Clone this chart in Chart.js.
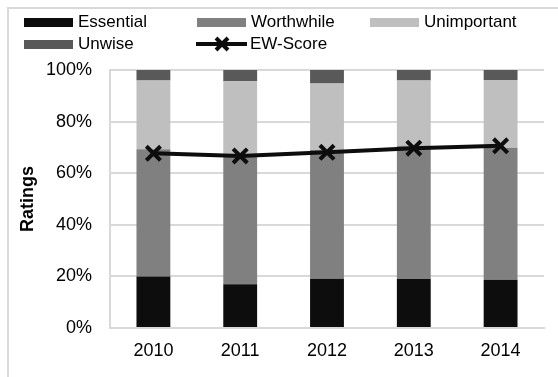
<!DOCTYPE html>
<html lang="en">
<head>
    <meta charset="UTF-8">
    <title>Ratings</title>
    <style>
        body { margin: 0; background: #fff; font-family: "Liberation Sans", Arial, sans-serif; }
        #wrap { position: relative; width: 558px; height: 377px; overflow: hidden; }
        #frame { position: absolute; left: 7px; top: 7px; width: 600px; height: 400px;
                 border-top: 2px solid #d9d9d9; border-left: 2px solid #d9d9d9; }
        canvas { position: absolute; left: 0; top: 0; }
        .item { position: absolute; font-size: 17px; color: #000; line-height: 20px; }
        .box { position: absolute; width: 49px; height: 9px; }
    </style>
</head>
<body>
    <div id="wrap">
        <div id="frame"></div>
        <canvas id="myChart" width="558" height="377"></canvas>
        <div id="legend"></div>
    </div>

    <script src="https://cdn.jsdelivr.net/npm/chart.js"></script>
    <script>
        const years = ['2010', '2011', '2012', '2013', '2014'];
        const essential   = [20.0, 17.0, 19.1, 19.0, 18.7];
        const worthwhile  = [49.3, 50.0, 49.9, 51.6, 51.2];
        const unimportant = [26.6, 28.6, 25.8, 25.3, 26.2];
        const unwise      = [4.1, 4.4, 5.2, 4.1, 3.9];
        const ewScore     = [67.7, 66.7, 68.1, 69.7, 70.6];
        const yTicks = [0, 20, 40, 60, 80, 100];

        const barColors = {
            Essential: '#0d0d0d',
            Worthwhile: '#808080',
            Unimportant: '#bfbfbf',
            Unwise: '#595959'
        };

        // legend in fixed columns like the original
        const legendItems = [
            { label: 'Essential', x: 24, y: 12, color: barColors.Essential },
            { label: 'Worthwhile', x: 197, y: 12, color: barColors.Worthwhile },
            { label: 'Unimportant', x: 370, y: 12, color: barColors.Unimportant },
            { label: 'Unwise', x: 24, y: 34, color: barColors.Unwise },
            { label: 'EW-Score', x: 196, y: 34, line: true }
        ];
        const legend = document.getElementById('legend');
        legendItems.forEach(it => {
            if (it.line) {
                const s = document.createElementNS('http://www.w3.org/2000/svg', 'svg');
                s.setAttribute('width', 52);
                s.setAttribute('height', 20);
                s.style.position = 'absolute';
                s.style.left = it.x + 'px';
                s.style.top = it.y + 'px';
                s.innerHTML = '<line x1="0" y1="10" x2="51" y2="10" stroke="#0d0d0d" stroke-width="4"/>' +
                    '<path d="M20 4 L32 16 M32 4 L20 16" stroke="#0d0d0d" stroke-width="4"/>';
                legend.appendChild(s);
            } else {
                const b = document.createElement('div');
                b.className = 'box';
                b.style.left = it.x + 'px';
                b.style.top = (it.y + 6) + 'px';
                b.style.background = it.color;
                legend.appendChild(b);
            }
            const t = document.createElement('div');
            t.className = 'item';
            t.textContent = it.label;
            t.style.left = (it.x + 54) + 'px';
            t.style.top = it.y + 'px';
            legend.appendChild(t);
        });

        const barSet = (label, data) => ({
            type: 'bar',
            label: label,
            data: data,
            backgroundColor: barColors[label],
            borderWidth: 0,
            stack: 'ratings',
            categoryPercentage: 1,
            barPercentage: 0.39,
            order: 2
        });

        const ctx = document.getElementById('myChart');
        new Chart(ctx, {
            data: {
                labels: years,
                datasets: [
                    barSet('Essential', essential),
                    barSet('Worthwhile', worthwhile),
                    barSet('Unimportant', unimportant),
                    barSet('Unwise', unwise),
                    {
                        type: 'line',
                        label: 'EW-Score',
                        data: ewScore,
                        stack: 'ew',
                        borderColor: '#0d0d0d',
                        backgroundColor: '#0d0d0d',
                        borderWidth: 4,
                        pointStyle: 'crossRot',
                        pointRadius: 10,
                        pointBorderWidth: 4,
                        tension: 0,
                        order: 1
                    }
                ]
            },
            options: {
                responsive: false,
                animation: false,
                layout: { padding: { top: 70, right: 3, left: 0, bottom: 0 } },
                plugins: {
                    legend: { display: false },
                    tooltip: { enabled: false }
                },
                scales: {
                    x: {
                        stacked: true,
                        grid: { display: false, drawTicks: false },
                        border: { color: '#d9d9d9', width: 2 },
                        ticks: {
                            color: '#000',
                            padding: 12,
                            font: { family: '"Liberation Sans", Arial, sans-serif', size: 18 }
                        },
                        afterFit: s => { s.height = 49; }
                    },
                    y: {
                        stacked: true,
                        min: 0,
                        max: 100,
                        afterBuildTicks: s => { s.ticks = yTicks.map(v => ({ value: v })); },
                        grid: { color: '#d9d9d9', lineWidth: 2, drawTicks: false },
                        border: { color: '#d9d9d9', width: 2 },
                        ticks: {
                            color: '#000',
                            padding: 18,
                            callback: v => v + '%',
                            font: { family: '"Liberation Sans", Arial, sans-serif', size: 18 }
                        },
                        title: {
                            display: true,
                            text: 'Ratings',
                            color: '#000',
                            padding: { top: 17, bottom: 0 },
                            font: { family: '"Liberation Sans", Arial, sans-serif', size: 18, weight: 'bold' }
                        },
                        afterFit: s => { s.width = 110; }
                    }
                }
            }
        });
    </script>
</body>
</html>
